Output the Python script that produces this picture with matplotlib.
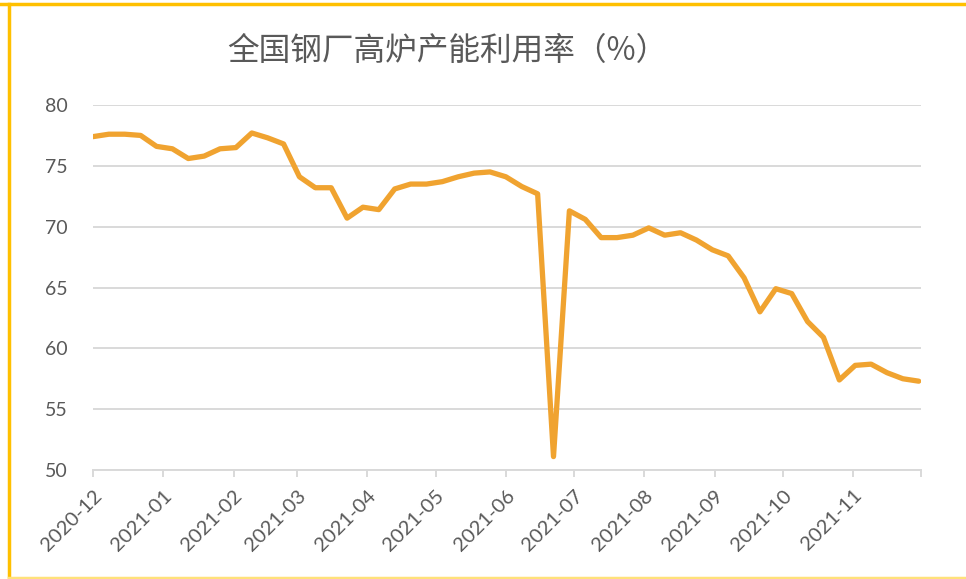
import matplotlib
matplotlib.use('Agg')
import matplotlib.pyplot as plt
from matplotlib.lines import Line2D
import pandas as pd

plt.rcParams['font.family'] = ['Lato', 'Noto Sans CJK SC', 'DejaVu Sans']

# weekly readings, first one on 2020-12-04
dates = pd.date_range('2020-12-04', periods=53, freq='7D')
utilization = [
    77.4, 77.6, 77.6, 77.5, 76.6, 76.4, 75.6, 75.8, 76.4, 76.5,
    77.7, 77.3, 76.8, 74.1, 73.2, 73.2, 70.7, 71.6, 71.4, 73.1,
    73.5, 73.5, 73.7, 74.1, 74.4, 74.5, 74.1, 73.3, 72.7, 51.1,
    71.3, 70.6, 69.1, 69.1, 69.3, 69.9, 69.3, 69.5, 68.9, 68.1,
    67.6, 65.8, 63.0, 64.9, 64.5, 62.2, 60.9, 57.4, 58.6, 58.7,
    58.0, 57.5, 57.3,
]

month_ticks = pd.date_range('2020-12-04', '2021-12-04', freq=pd.DateOffset(months=1))
month_labels = ['2020-12', '2021-01', '2021-02', '2021-03', '2021-04', '2021-05',
                '2021-06', '2021-07', '2021-08', '2021-09', '2021-10', '2021-11', '']
y_ticks = [50, 55, 60, 65, 70, 75, 80]

title = '全国钢厂高炉产能利用率（%）'
text_color = '#595959'
grid_color = '#D9D9D9'

fig = plt.figure(figsize=(9.66, 5.79), dpi=100)
ax = fig.add_axes([93 / 966, 1 - 470 / 579, 828 / 966, 365 / 579])

ax.plot(dates, utilization, color='#F0A330', linewidth=3.8, solid_joinstyle='round',
        solid_capstyle='round', zorder=3)

ax.set_xlim(month_ticks[0], month_ticks[-1])
ax.set_ylim(50, 80)
ax.set_yticks(y_ticks)
ax.set_xticks(month_ticks)
ax.set_xticklabels(month_labels, rotation=45, ha='right', rotation_mode='anchor')

ax.grid(axis='y', color=grid_color, linewidth=1.4)
ax.set_axisbelow(True)
for side in ['top', 'right', 'left']:
    ax.spines[side].set_visible(False)
ax.spines['bottom'].set_color(grid_color)
ax.spines['bottom'].set_linewidth(1.4)

ax.tick_params(axis='y', length=0, pad=18, labelsize=14, labelcolor=text_color)
ax.tick_params(axis='x', direction='out', length=5, width=1.4, color=grid_color,
               pad=7, labelsize=14.5, labelcolor=text_color)

fig.text(447 / 966, 1 - 51 / 579, title, ha='center', va='center', fontsize=22.8,
         color=text_color, family=['Noto Sans CJK SC', 'DejaVu Sans'])

# frame around the chart
fig.add_artist(Line2D([0, 1], [1 - 3.5 / 579] * 2, color='#FFC000', linewidth=2.5))
fig.add_artist(Line2D([8.5 / 966] * 2, [1 - 3.5 / 579, 1 / 579], color='#FFC000', linewidth=2.5))
fig.add_artist(Line2D([8.5 / 966, 1], [1 / 579] * 2, color='#FFE17A', linewidth=2.5))

fig.savefig('out.png', dpi=100)
